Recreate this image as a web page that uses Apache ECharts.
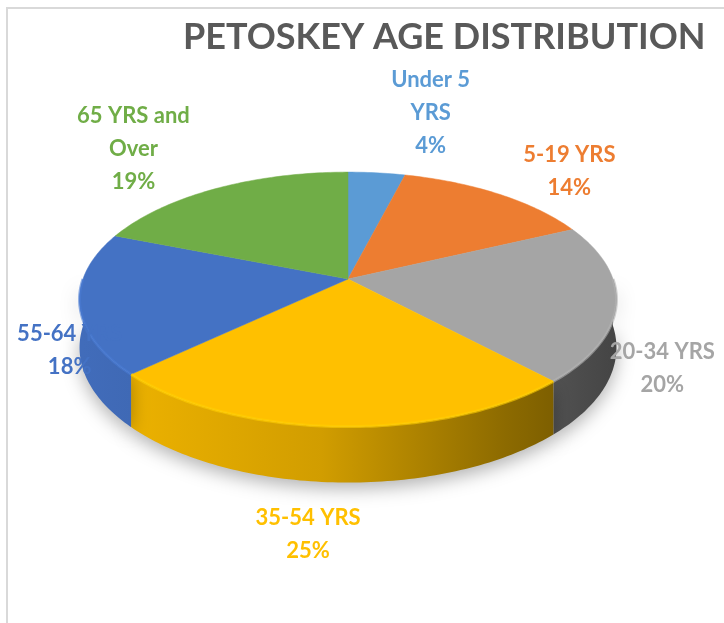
<!DOCTYPE html>
<html>
<head>
<meta charset="utf-8">
<title>Petoskey Age Distribution</title>
<script src="https://cdn.jsdelivr.net/npm/echarts@6/dist/echarts.min.js"></script>
<style>
  html, body { margin: 0; padding: 0; background: #fff; overflow: hidden; }
  #frame { position: absolute; left: 6px; top: 7px; width: 800px; height: 700px; border: 2px solid #d9d9d9; }
  #chart { position: absolute; left: 0; top: 0; width: 724px; height: 623px; }
</style>
</head>
<body>
<div id="frame"></div>
<div id="chart"></div>
<script>
var categories = ['Under 5\nYRS', '5-19 YRS', '20-34 YRS', '35-54 YRS', '55-64 YRS', '65 YRS and\nOver']
var shares = [4, 14, 20, 25, 18, 19]
var colors = ['#5b9bd5', '#ed7d31', '#a5a5a5', '#ffc000', '#4472c4', '#70ad47']
// label offset from the slice's rim midpoint (mimics excel "best fit")
var labelShift = [[54, -60], [71, -23], [46, 65], [-30, 108], [-10, 47], [-83, -40]]

// 3d disc geometry
var CX = 348, CY = 279, RX = 265, RY = 124, PERSP = 0.16, DEPTH = 47

var total = shares.reduce(function (a, b) { return a + b }, 0)
var startAngle = []
var acc = 0
shares.forEach(function (v) { startAngle.push(acc / total * 360); acc += v })

function pt(deg, down) {
  var r = deg * Math.PI / 180
  var u = Math.sin(r), v = -Math.cos(r)
  var s = 1 / (1 - PERSP * v)
  return [CX + RX * u * s, CY + RY * v * s + (down ? DEPTH * s : 0)]
}

function shade(hex, f) {
  var n = parseInt(hex.slice(1), 16)
  var r = Math.min(255, Math.round(((n >> 16) & 255) * f))
  var g = Math.min(255, Math.round(((n >> 8) & 255) * f))
  var b = Math.min(255, Math.round((n & 255) * f))
  return 'rgb(' + r + ',' + g + ',' + b + ')'
}

function renderItem(params, api) {
  var i = params.dataIndex
  var val = api.value(0)
  var t0 = startAngle[i]
  var t1 = t0 + val / total * 360
  var children = []

  // side wall (front half only)
  var a = Math.max(t0, 90), b = Math.min(t1, 270)
  if (b > a) {
    var side = []
    var t
    for (t = a; t < b; t += 1) side.push(pt(t, 0))
    side.push(pt(b, 0))
    for (t = b; t > a; t -= 1) side.push(pt(t, 1))
    side.push(pt(a, 1))
    children.push({
      type: 'polygon',
      z2: 1,
      shape: { points: side },
      style: {
        fill: new echarts.graphic.LinearGradient(CX - RX, 0, CX + RX, 0, [
          { offset: 0, color: shade(colors[i], 0.95) },
          { offset: 0.45, color: shade(colors[i], 0.82) },
          { offset: 0.8, color: shade(colors[i], 0.55) },
          { offset: 1, color: shade(colors[i], 0.42) }
        ], true),
        shadowBlur: 18,
        shadowOffsetY: 6,
        shadowColor: 'rgba(0,0,0,0.3)'
      }
    })
    // bevel highlight along the front rim
    var rim = []
    for (t = a; t < b; t += 1) rim.push(pt(t, 0))
    rim.push(pt(b, 0))
    children.push({
      type: 'polyline',
      z2: 6,
      shape: { points: rim },
      style: { stroke: shade(colors[i], 1.08), lineWidth: 3, opacity: 0.6, fill: null }
    })
  }

  // top face
  var top = [[CX, CY]]
  for (var k = t0; k < t1; k += 1) top.push(pt(k, 0))
  top.push(pt(t1, 0))
  children.push({
    type: 'polygon',
    z2: 5,
    shape: { points: top },
    style: { fill: colors[i], stroke: colors[i], lineWidth: 0.5 }
  })

  // label
  var anchor = pt((t0 + t1) / 2, 0)
  children.push({
    type: 'text',
    z2: 10,
    x: anchor[0] + labelShift[i][0],
    y: anchor[1] + labelShift[i][1],
    style: {
      text: categories[i] + '\n' + Math.round(val / total * 100) + '%',
      align: 'center',
      verticalAlign: 'middle',
      fill: colors[i],
      font: 'bold 22px Lato',
      lineHeight: 33
    }
  })

  return { type: 'group', children: children }
}

var chart = echarts.init(document.getElementById('chart'))
chart.setOption({
  animation: false,
  title: {
    text: 'PETOSKEY AGE DISTRIBUTION',
    left: 178,
    top: 14,
    textStyle: { fontFamily: 'Lato', fontWeight: 'bold', fontSize: 36, color: '#595959' }
  },
  series: [{
    type: 'custom',
    coordinateSystem: 'none',
    renderItem: renderItem,
    data: shares
  }]
})
</script>
</body>
</html>
